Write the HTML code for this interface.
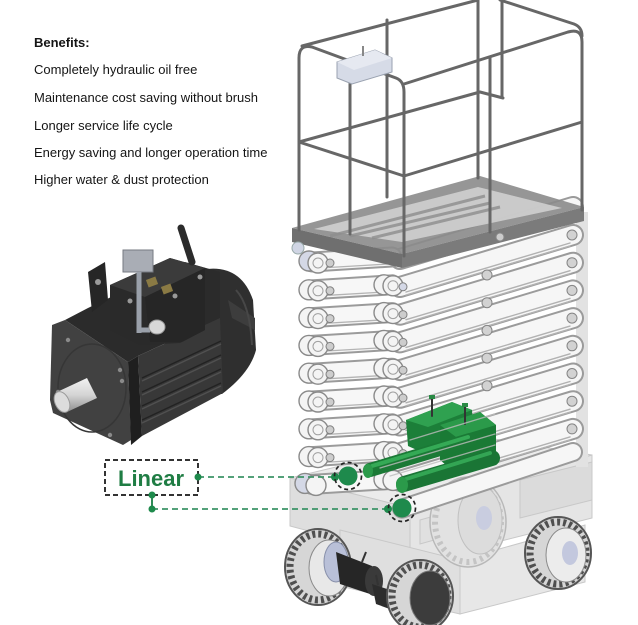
<!DOCTYPE html>
<html><head><meta charset="utf-8">
<style>
html,body{margin:0;padding:0;background:#fff;}
#wrap{position:relative;width:638px;height:625px;overflow:hidden;background:#fff;}
.t{position:absolute;left:34px;font-family:"Liberation Sans",Arial,sans-serif;font-size:13px;line-height:16px;color:#151515;white-space:nowrap;}
svg{position:absolute;left:0;top:0;}
</style></head><body><div id="wrap">
<svg width="638" height="625" viewBox="0 0 638 625">
<defs>
<linearGradient id="shaft" x1="0" y1="0" x2="0" y2="1"><stop offset="0" stop-color="#f2f2f2"/><stop offset="0.5" stop-color="#d4d4d4"/><stop offset="1" stop-color="#8f8f8f"/></linearGradient>
</defs>

<!-- ===== MOTOR ===== -->
<g>
<path d="M200,270 Q240,262 253,300 L256,350 Q250,373 222,394 L200,394 Z" fill="#2f2f2f"/>
<path d="M228,300 L255,318 L255,330 L232,318 Z" fill="#3d3d3d"/>
<path d="M236,290 Q250,305 252,345" stroke="#474747" stroke-width="2" fill="none"/>
<polygon points="65,320 88,308 185,262 220,272 220,318 138,356 128,362" fill="#2b2b2b"/>
<polygon points="138,356 220,318 223,393 142,436" fill="#383838"/>
<g stroke-width="1.5">
<line x1="142" y1="378" x2="221" y2="341" stroke="#222"/>
<line x1="142" y1="381" x2="221" y2="344" stroke="#505050"/>
<line x1="142" y1="392" x2="221" y2="355" stroke="#222"/>
<line x1="142" y1="395" x2="221" y2="358" stroke="#505050"/>
<line x1="142" y1="406" x2="221" y2="369" stroke="#222"/>
<line x1="142" y1="409" x2="221" y2="372" stroke="#505050"/>
<line x1="142" y1="420" x2="221" y2="383" stroke="#222"/>
<line x1="142" y1="423" x2="221" y2="386" stroke="#505050"/>
</g>
<polygon points="88,272 105,262 108,300 92,312" fill="#262626"/>
<circle cx="98" cy="282" r="3" fill="#9a9a9a"/>
<polygon points="110,285 170,258 205,268 205,330 180,343 140,345 110,330" fill="#2a2a2a"/>
<polygon points="110,285 170,258 205,268 145,297" fill="#3b3b3b"/>
<polygon points="145,297 205,268 205,330 182,342 150,342" fill="#262626"/>
<rect x="147" y="278" width="10" height="8" fill="#8a7a44" transform="rotate(-20 152 282)"/>
<rect x="162" y="285" width="10" height="8" fill="#8a7a44" transform="rotate(-20 167 289)"/>
<circle cx="175" cy="296" r="2.5" fill="#999"/>
<circle cx="200" cy="277" r="2.5" fill="#999"/>
<circle cx="130" cy="301" r="2.5" fill="#999"/>
<line x1="181" y1="228" x2="192" y2="262" stroke="#2b2b2b" stroke-width="7" stroke-linecap="round"/>
<rect x="123" y="250" width="30" height="22" fill="#a9adb5" stroke="#767a82" stroke-width="1"/>
<line x1="139" y1="272" x2="139" y2="333" stroke="#9aa0aa" stroke-width="5"/>
<line x1="139" y1="330" x2="150" y2="330" stroke="#9aa0aa" stroke-width="5"/>
<ellipse cx="157" cy="327" rx="8" ry="7" fill="#d8d8d8" stroke="#999"/>
<polygon points="52,325 65,320 128,362 131,440 123,445 53,413 50,400" fill="#414141"/>
<polygon points="128,362 138,356 142,436 131,445" fill="#1f1f1f"/>
<ellipse cx="92" cy="388" rx="34" ry="44" fill="none" stroke="#363636" stroke-width="1.5"/>
<g fill="#8a8a8a"><circle cx="68" cy="340" r="2.2"/><circle cx="120" cy="370" r="2.2"/><circle cx="122" cy="381" r="2.2"/><circle cx="110" cy="435" r="2.2"/><circle cx="58" cy="392" r="2.2"/></g>
<polygon points="57,392 87,378 97,398 67,412" fill="url(#shaft)"/>
<ellipse cx="62" cy="402" rx="7" ry="11" transform="rotate(-25 62 402)" fill="#dcdcdc" stroke="#9a9a9a"/>
</g>

<!-- ===== CHASSIS (behind) ===== -->
<g stroke="#c8c8c8" stroke-width="1">
<polygon points="290,478 470,435 592,455 410,508" fill="#ebebeb"/>
<polygon points="290,478 410,508 410,558 290,526" fill="#dedede"/>
<polygon points="410,508 592,455 592,518 410,564" fill="#e5e5e5"/>
<polygon points="340,530 460,560 460,614 340,586" fill="#dfdfdf"/>
<polygon points="460,560 585,525 585,582 460,614" fill="#e7e7e7"/>
<polygon points="520,480 592,462 592,500 520,518" fill="#dbdbdb"/>
<polygon points="420,520 470,506 470,530 420,544" fill="#e0e0e0"/>
</g>
<ellipse cx="468" cy="522" rx="38" ry="45" fill="#e2e2e2" stroke="#b8b8b8" stroke-width="1.5"/>
<ellipse cx="468" cy="522" rx="33" ry="40" fill="none" stroke="#c4c4c4" stroke-width="6" stroke-dasharray="3 4"/>
<ellipse cx="480" cy="520" rx="22" ry="34" fill="#dcdcdc" stroke="#c0c0c0"/>
<ellipse cx="484" cy="518" rx="8" ry="12" fill="#c9cde0"/>

<rect x="576" y="212" width="12" height="255" fill="#e2e2e2"/>

<!-- ===== LONG ARMS ===== -->
<g stroke-linecap="round">
<line x1="400" y1="259" x2="573" y2="207" stroke="#9b9b9b" stroke-width="22"/><line x1="400" y1="259" x2="573" y2="207" stroke="#f6f6f6" stroke-width="18"/>
<line x1="400" y1="287" x2="573" y2="235" stroke="#9b9b9b" stroke-width="22"/><line x1="400" y1="287" x2="573" y2="235" stroke="#f6f6f6" stroke-width="18"/>
<line x1="400" y1="314.7" x2="573" y2="262.7" stroke="#9b9b9b" stroke-width="22"/><line x1="400" y1="314.7" x2="573" y2="262.7" stroke="#f6f6f6" stroke-width="18"/>
<line x1="400" y1="342.4" x2="573" y2="290.4" stroke="#9b9b9b" stroke-width="22"/><line x1="400" y1="342.4" x2="573" y2="290.4" stroke="#f6f6f6" stroke-width="18"/>
<line x1="400" y1="370.1" x2="573" y2="318.1" stroke="#9b9b9b" stroke-width="22"/><line x1="400" y1="370.1" x2="573" y2="318.1" stroke="#f6f6f6" stroke-width="18"/>
<line x1="400" y1="397.8" x2="573" y2="345.8" stroke="#9b9b9b" stroke-width="22"/><line x1="400" y1="397.8" x2="573" y2="345.8" stroke="#f6f6f6" stroke-width="18"/>
<line x1="400" y1="425.5" x2="573" y2="373.5" stroke="#9b9b9b" stroke-width="22"/><line x1="400" y1="425.5" x2="573" y2="373.5" stroke="#f6f6f6" stroke-width="18"/>
<line x1="400" y1="453.2" x2="573" y2="401.2" stroke="#9b9b9b" stroke-width="22"/><line x1="400" y1="453.2" x2="573" y2="401.2" stroke="#f6f6f6" stroke-width="18"/>
<line x1="400" y1="480.9" x2="573" y2="428.9" stroke="#9b9b9b" stroke-width="22"/><line x1="400" y1="480.9" x2="573" y2="428.9" stroke="#f6f6f6" stroke-width="18"/>
<line x1="402" y1="508.6" x2="573" y2="452" stroke="#9b9b9b" stroke-width="20"/><line x1="402" y1="508.6" x2="573" y2="452" stroke="#f6f6f6" stroke-width="16"/>
<g stroke="#b2b2b2" stroke-width="1.4">
<line x1="406" y1="292" x2="570" y2="243"/><line x1="406" y1="295" x2="570" y2="246"/>
<line x1="406" y1="319.7" x2="570" y2="270.7"/><line x1="406" y1="322.7" x2="570" y2="273.7"/>
<line x1="406" y1="347.4" x2="570" y2="298.4"/><line x1="406" y1="350.4" x2="570" y2="301.4"/>
<line x1="406" y1="375.1" x2="570" y2="326.1"/><line x1="406" y1="378.1" x2="570" y2="329.1"/>
<line x1="406" y1="402.8" x2="570" y2="353.8"/><line x1="406" y1="405.8" x2="570" y2="356.8"/>
<line x1="406" y1="430.5" x2="570" y2="381.5"/><line x1="406" y1="433.5" x2="570" y2="384.5"/>
<line x1="406" y1="458.2" x2="570" y2="409.2"/><line x1="406" y1="461.2" x2="570" y2="412.2"/>
<line x1="406" y1="485.9" x2="570" y2="436.9"/><line x1="406" y1="488.9" x2="570" y2="439.9"/>
</g>
</g>
<g fill="#d2d2d2" stroke="#858585" stroke-width="1">
<circle cx="572" cy="235" r="5"/><circle cx="572" cy="262.7" r="5"/><circle cx="572" cy="290.4" r="5"/><circle cx="572" cy="318.1" r="5"/><circle cx="572" cy="345.8" r="5"/><circle cx="572" cy="373.5" r="5"/><circle cx="572" cy="401.2" r="5"/><circle cx="572" cy="428.9" r="5"/>
<circle cx="487" cy="275" r="5"/><circle cx="487" cy="302.7" r="5"/><circle cx="487" cy="330.4" r="5"/><circle cx="487" cy="358.1" r="5"/><circle cx="487" cy="385.8" r="5"/>
</g>

<!-- ===== LEFT FACE ROWS ===== -->
<g>
<g stroke-linecap="round">
<line x1="312" y1="262" x2="392" y2="257" stroke="#9b9b9b" stroke-width="21"/><line x1="312" y1="262" x2="392" y2="257" stroke="#f7f7f7" stroke-width="17"/>
<line x1="312" y1="289.8" x2="392" y2="284.8" stroke="#9b9b9b" stroke-width="21"/><line x1="312" y1="289.8" x2="392" y2="284.8" stroke="#f7f7f7" stroke-width="17"/>
<line x1="312" y1="317.6" x2="392" y2="312.6" stroke="#9b9b9b" stroke-width="21"/><line x1="312" y1="317.6" x2="392" y2="312.6" stroke="#f7f7f7" stroke-width="17"/>
<line x1="312" y1="345.4" x2="392" y2="340.4" stroke="#9b9b9b" stroke-width="21"/><line x1="312" y1="345.4" x2="392" y2="340.4" stroke="#f7f7f7" stroke-width="17"/>
<line x1="312" y1="373.2" x2="392" y2="368.2" stroke="#9b9b9b" stroke-width="21"/><line x1="312" y1="373.2" x2="392" y2="368.2" stroke="#f7f7f7" stroke-width="17"/>
<line x1="312" y1="401" x2="392" y2="396" stroke="#9b9b9b" stroke-width="21"/><line x1="312" y1="401" x2="392" y2="396" stroke="#f7f7f7" stroke-width="17"/>
<line x1="312" y1="428.8" x2="392" y2="423.8" stroke="#9b9b9b" stroke-width="21"/><line x1="312" y1="428.8" x2="392" y2="423.8" stroke="#f7f7f7" stroke-width="17"/>
<line x1="312" y1="456.6" x2="392" y2="451.6" stroke="#9b9b9b" stroke-width="21"/><line x1="312" y1="456.6" x2="392" y2="451.6" stroke="#f7f7f7" stroke-width="17"/>
<line x1="312" y1="484.4" x2="392" y2="479.4" stroke="#9b9b9b" stroke-width="21"/><line x1="312" y1="484.4" x2="392" y2="479.4" stroke="#f7f7f7" stroke-width="17"/>
</g>
<g stroke="#b4b4b4" stroke-width="1.3">
<line x1="320" y1="268" x2="388" y2="264"/><line x1="320" y1="295.8" x2="388" y2="291.8"/><line x1="320" y1="323.6" x2="388" y2="319.6"/><line x1="320" y1="351.4" x2="388" y2="347.4"/><line x1="320" y1="379.2" x2="388" y2="375.2"/><line x1="320" y1="407" x2="388" y2="403"/><line x1="320" y1="434.8" x2="388" y2="430.8"/><line x1="320" y1="462.6" x2="388" y2="458.6"/>
</g>
<g fill="#f4f4f4" stroke="#8a8a8a" stroke-width="1.4">
<circle cx="309" cy="261" r="10" fill="#d4d8e6"/><circle cx="318" cy="263" r="10"/>
<circle cx="309" cy="289.8" r="10"/><circle cx="318" cy="290.8" r="10"/>
<circle cx="309" cy="317.6" r="10"/><circle cx="318" cy="318.6" r="10"/>
<circle cx="309" cy="345.4" r="10"/><circle cx="318" cy="346.4" r="10"/>
<circle cx="309" cy="373.2" r="10"/><circle cx="318" cy="374.2" r="10"/>
<circle cx="309" cy="401" r="10"/><circle cx="318" cy="402" r="10"/>
<circle cx="309" cy="428.8" r="10"/><circle cx="318" cy="429.8" r="10"/>
<circle cx="309" cy="456.6" r="10"/><circle cx="318" cy="457.6" r="10"/>
<circle cx="305" cy="483.4" r="10" fill="#d4d8e6"/><circle cx="316" cy="485.4" r="10"/>
<circle cx="384" cy="284.8" r="10"/><circle cx="393" cy="285.8" r="10"/>
<circle cx="384" cy="312.6" r="10"/><circle cx="393" cy="313.6" r="10"/>
<circle cx="384" cy="340.4" r="10"/><circle cx="393" cy="341.4" r="10"/>
<circle cx="384" cy="368.2" r="10"/><circle cx="393" cy="369.2" r="10"/>
<circle cx="384" cy="396" r="10"/><circle cx="393" cy="397" r="10"/>
<circle cx="384" cy="423.8" r="10"/><circle cx="393" cy="424.8" r="10"/>
<circle cx="384" cy="451.6" r="10"/><circle cx="393" cy="452.6" r="10"/>
<circle cx="384" cy="479.4" r="10"/><circle cx="393" cy="480.4" r="10"/>
</g>
<g fill="none" stroke="#a0a0a0" stroke-width="1">
<circle cx="318" cy="263" r="5"/><circle cx="318" cy="290.8" r="5"/><circle cx="318" cy="318.6" r="5"/><circle cx="318" cy="346.4" r="5"/><circle cx="318" cy="374.2" r="5"/><circle cx="318" cy="402" r="5"/><circle cx="318" cy="429.8" r="5"/><circle cx="318" cy="457.6" r="5"/>
<circle cx="393" cy="285.8" r="5"/><circle cx="393" cy="313.6" r="5"/><circle cx="393" cy="341.4" r="5"/><circle cx="393" cy="369.2" r="5"/><circle cx="393" cy="397" r="5"/><circle cx="393" cy="424.8" r="5"/><circle cx="393" cy="452.6" r="5"/>
</g>
<g fill="#cdcdcd" stroke="#808080" stroke-width="1">
<circle cx="330" cy="263" r="4"/><circle cx="330" cy="290.8" r="4"/><circle cx="330" cy="318.6" r="4"/><circle cx="330" cy="346.4" r="4"/><circle cx="330" cy="374.2" r="4"/><circle cx="330" cy="402" r="4"/><circle cx="330" cy="429.8" r="4"/><circle cx="330" cy="457.6" r="4"/>
<circle cx="403" cy="286.8" r="4" fill="#d4d8e6"/><circle cx="403" cy="314.6" r="4"/><circle cx="403" cy="342.4" r="4"/><circle cx="403" cy="370.2" r="4"/><circle cx="403" cy="398" r="4"/><circle cx="403" cy="425.8" r="4"/><circle cx="403" cy="453.6" r="4"/>
</g>
</g>

<!-- ===== GREEN ACTUATOR ===== -->
<g stroke-linecap="round">
<polygon points="406,420 452,402 472,410 474,440 428,455 408,446" fill="#1c7f39"/>
<polygon points="406,420 452,402 472,410 428,427" fill="#2fa150"/>
<polygon points="440,425 480,412 496,425 496,458 452,470 440,460" fill="#1a7a35"/>
<polygon points="440,425 480,412 496,425 456,437" fill="#2b9a4a"/>
<line x1="370" y1="470" x2="470" y2="440" stroke="#1b7a36" stroke-width="14"/>
<line x1="372" y1="466" x2="468" y2="437" stroke="#35aa56" stroke-width="4"/>
<line x1="404" y1="484" x2="492" y2="458" stroke="#1a7535" stroke-width="16"/>
<line x1="406" y1="479" x2="490" y2="453" stroke="#33a554" stroke-width="4"/>
<ellipse cx="368" cy="471" rx="5" ry="7" fill="#2b9a4a"/>
<ellipse cx="402" cy="485" rx="6" ry="8" fill="#2b9a4a"/>
<line x1="432" y1="398" x2="432" y2="416" stroke="#333" stroke-width="2"/>
<line x1="465" y1="406" x2="465" y2="424" stroke="#333" stroke-width="2"/>
<rect x="429" y="395" width="6" height="4" fill="#2a8a45"/>
<rect x="462" y="403" width="6" height="4" fill="#2a8a45"/>
<g stroke="#bdbdbd" stroke-width="1.3" opacity="0.8">
<line x1="380" y1="468" x2="495" y2="434"/><line x1="390" y1="476" x2="495" y2="445"/><line x1="410" y1="440" x2="495" y2="414"/>
</g>
</g>

<!-- ===== WHEELS & DRIVE ===== -->
<g>
<ellipse cx="318" cy="567" rx="33" ry="38" fill="#d6d6d6" stroke="#555" stroke-width="2"/>
<ellipse cx="318" cy="567" rx="28" ry="33" fill="none" stroke="#4f4f4f" stroke-width="7" stroke-dasharray="3 3"/>
<ellipse cx="329" cy="568" rx="20" ry="28" fill="#e8e8e8" stroke="#8a8a8a"/>
<ellipse cx="336" cy="562" rx="12" ry="20" fill="#b9c0d8" stroke="#8890aa"/>
<polygon points="336,552 372,566 376,596 340,584" fill="#262626"/>
<ellipse cx="374" cy="581" rx="9" ry="15" fill="#3a3a3a"/>
<line x1="362" y1="562" x2="366" y2="552" stroke="#333" stroke-width="2"/>
<polygon points="372,584 396,592 398,612 376,604" fill="#2c2c2c"/>
<line x1="378" y1="585" x2="376" y2="575" stroke="#333" stroke-width="2"/>
<ellipse cx="558" cy="553" rx="33" ry="36" fill="#d6d6d6" stroke="#555" stroke-width="2"/>
<ellipse cx="558" cy="553" rx="28" ry="31" fill="none" stroke="#4f4f4f" stroke-width="7" stroke-dasharray="3 3"/>
<ellipse cx="566" cy="555" rx="20" ry="27" fill="#ececec" stroke="#8a8a8a"/>
<ellipse cx="570" cy="553" rx="8" ry="12" fill="#c3c8de"/>
<ellipse cx="420" cy="596" rx="33" ry="36" fill="#d6d6d6" stroke="#555" stroke-width="2"/>
<ellipse cx="420" cy="596" rx="28" ry="31" fill="none" stroke="#4f4f4f" stroke-width="7" stroke-dasharray="3 3"/>
<ellipse cx="430" cy="598" rx="20" ry="27" fill="#3c3c3c" stroke="#777"/>
</g>

<!-- ===== DECK ===== -->
<g>
<polygon points="292,228 480,176 584,207 402,254" fill="#8b8b8b" opacity="0.9"/>
<polygon points="314,229 478,187 562,208 402,242" fill="#d3d3d3" opacity="0.85"/>
<g stroke="#8e8e8e" stroke-width="3" opacity="0.8">
<line x1="330" y1="236" x2="485" y2="196"/><line x1="350" y1="236" x2="490" y2="203"/><line x1="372" y1="238" x2="500" y2="207"/>
</g>
<polygon points="292,228 402,254 402,268 292,242" fill="#6f6f6f"/>
<polygon points="402,254 584,207 584,221 402,268" fill="#7b7b7b"/>
<circle cx="298" cy="248" r="6" fill="#d0d5e4" stroke="#9aa"/>
<circle cx="500" cy="237" r="4" fill="#ccc" stroke="#888"/>
</g>

<!-- ===== GUARDRAIL ===== -->
<g fill="none" stroke="#676767" stroke-width="3" stroke-linecap="round" stroke-linejoin="round">
<path d="M299,230 L299,58 Q299,44 312,47 L396,78 Q404,81 404,92 L404,256"/>
<path d="M404,84 L568,32 Q582,28 582,42 L582,210"/>
<path d="M302,46 L478,0"/>
<path d="M500,0 L574,24 Q582,27 582,36"/>
<path d="M478,0 L478,178"/>
<path d="M502,0 L502,97"/>
<path d="M490,57 L490,232"/>
<path d="M387,20 L387,197"/>
<path d="M350,68 L350,234"/>
<path d="M299,142 L404,176 L582,122"/>
<path d="M299,142 L480,92 L503,98"/>
</g>
<polygon points="337,62 375,50 392,58 392,72 352,84 337,78" fill="#d6dbe7" stroke="#9aa2b0" stroke-width="1"/>
<polygon points="337,62 375,50 392,58 354,70" fill="#e6e9f1"/>
<line x1="363" y1="56" x2="363" y2="46" stroke="#888" stroke-width="2"/>

<!-- ===== CALLOUTS ===== -->
<rect x="105" y="460" width="93" height="35" fill="none" stroke="#333" stroke-width="2" stroke-dasharray="5 3"/>
<text x="118" y="486" font-family="Liberation Sans, Arial, sans-serif" font-size="22" font-weight="bold" fill="#1f7d44">Linear</text>
<g stroke="#3d9467" stroke-width="1.7" stroke-dasharray="6 4">
<line x1="198" y1="477" x2="335" y2="477"/>
<line x1="152" y1="509" x2="388" y2="509"/>
</g>
<line x1="152" y1="495" x2="152" y2="509" stroke="#2e8b57" stroke-width="2"/>
<g fill="#1e8a4c">
<circle cx="198" cy="477" r="3.5"/>
<circle cx="152" cy="495" r="3.5"/>
<circle cx="152" cy="509" r="3.5"/>
<circle cx="335" cy="477" r="4"/>
<circle cx="348" cy="476" r="9.5"/>
<circle cx="388" cy="509" r="4"/>
<circle cx="402" cy="508" r="9.5"/>
</g>
<g fill="none" stroke="#222" stroke-width="1.7" stroke-dasharray="4 3">
<circle cx="348" cy="476" r="13.5"/>
<circle cx="402" cy="508" r="13.5"/>
</g>
</svg>

<div class="t" style="top:35px;font-weight:bold;">Benefits:</div>
<div class="t" style="top:62px;">Completely hydraulic oil free</div>
<div class="t" style="top:90px;">Maintenance cost saving without brush</div>
<div class="t" style="top:118px;">Longer service life cycle</div>
<div class="t" style="top:145px;">Energy saving and longer operation time</div>
<div class="t" style="top:172px;">Higher water &amp; dust protection</div>
</div></body></html>
